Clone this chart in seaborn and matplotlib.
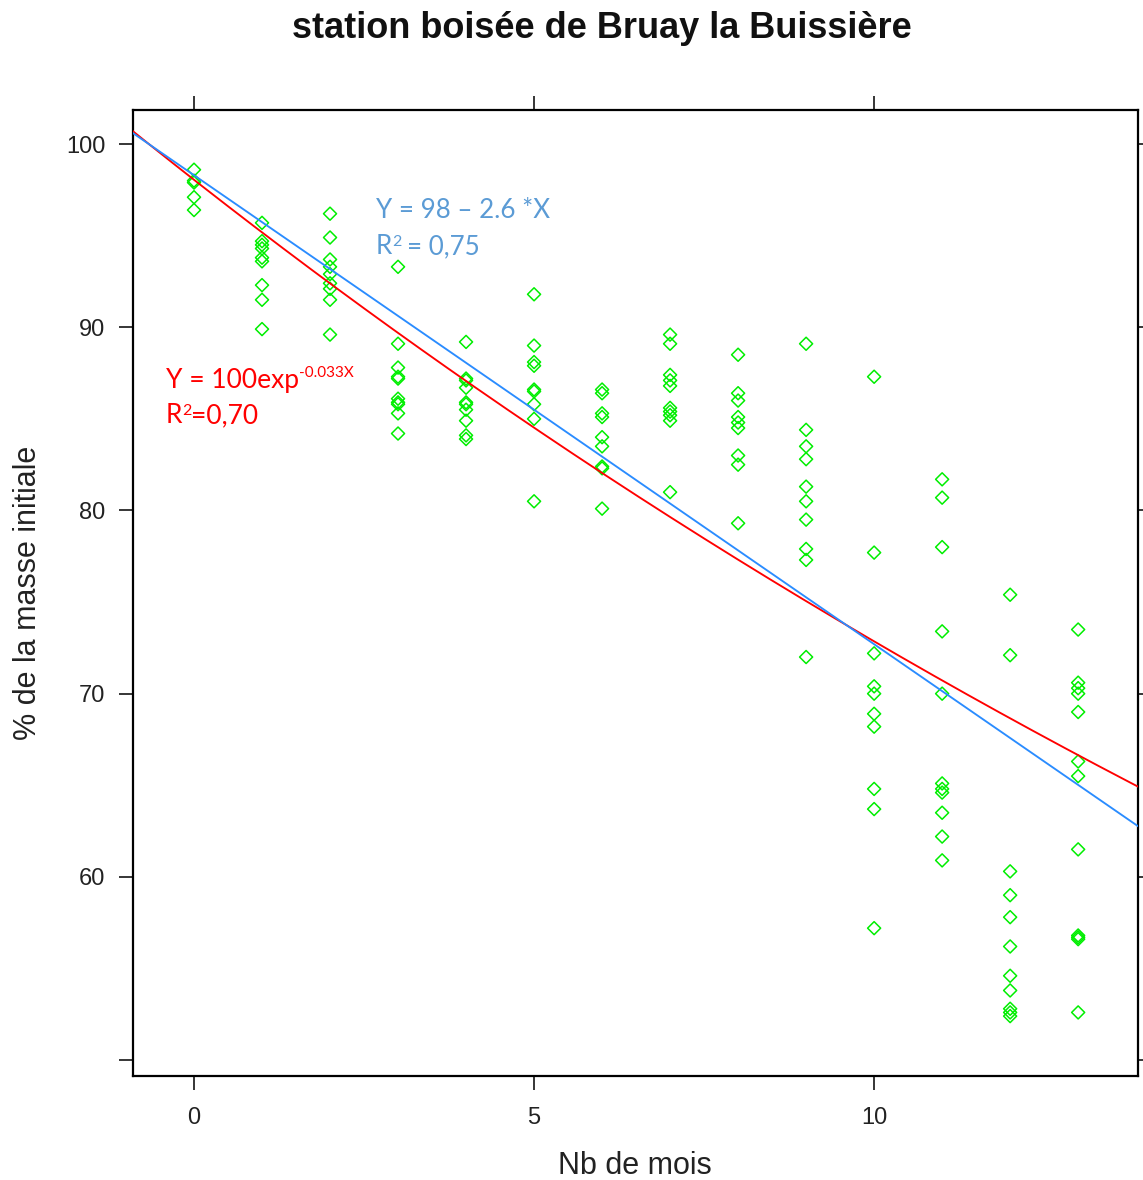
import numpy as np
import pandas as pd
import matplotlib
matplotlib.use("Agg")
import matplotlib.pyplot as plt
import seaborn as sns

# ---- data ----
mois = list(range(14))
masse_par_mois = [
    [98.6, 98.0, 97.9, 97.1, 96.4],
    [95.7, 94.7, 94.5, 94.3, 93.8, 93.6, 92.3, 91.5, 89.9],
    [96.2, 94.9, 93.7, 93.3, 92.9, 92.4, 92.1, 91.5, 89.6],
    [93.3, 89.1, 87.8, 87.3, 87.2, 86.1, 85.9, 85.8, 85.3, 84.2],
    [89.2, 87.2, 87.1, 86.7, 85.9, 85.8, 85.5, 84.9, 84.1, 83.9],
    [91.8, 89.0, 88.1, 87.9, 86.6, 86.5, 85.8, 85.0, 80.5],
    [86.6, 86.4, 85.3, 85.1, 84.0, 83.5, 82.4, 82.3, 80.1],
    [89.6, 89.1, 87.4, 87.1, 86.8, 85.6, 85.4, 85.2, 84.9, 81.0],
    [88.5, 86.4, 86.0, 85.1, 84.8, 84.5, 83.0, 82.5, 79.3],
    [89.1, 84.4, 83.5, 82.8, 81.3, 80.5, 79.5, 77.9, 77.3, 72.0],
    [87.3, 77.7, 72.2, 70.4, 70.0, 68.9, 68.2, 64.8, 63.7, 57.2],
    [81.7, 80.7, 78.0, 73.4, 70.0, 65.1, 64.8, 64.6, 63.5, 62.2, 60.9],
    [75.4, 72.1, 60.3, 59.0, 57.8, 56.2, 54.6, 53.8, 52.8, 52.6, 52.4],
    [73.5, 70.6, 70.3, 70.0, 69.0, 66.3, 65.5, 61.5, 56.8, 56.7, 56.6, 52.6],
]
# fitted curves (as drawn)
lin_intercept, lin_slope = 98.3, -2.56
exp_a, exp_k = 98.05, -0.0297

x_ticks = [0, 5, 10]
y_ticks = [50, 60, 70, 80, 90, 100]
y_ticklabels = ["", "60", "70", "80", "90", "100"]

df = pd.DataFrame({
    "mois": [m for m, vals in zip(mois, masse_par_mois) for _ in vals],
    "masse": [v for vals in masse_par_mois for v in vals],
})

sns.set_theme(style="white")
plt.rcParams["font.family"] = ["Liberation Sans Narrow", "Liberation Sans", "DejaVu Sans"]

fig = plt.figure(figsize=(11.43, 11.8), dpi=100)
ax = fig.add_axes([133 / 1143, 1 - 1076 / 1180, (1138 - 133) / 1143, (1076 - 110) / 1180])

sns.scatterplot(data=df, x="mois", y="masse", marker="D", s=44,
                facecolor="none", edgecolor="#00EE00", linewidth=1.1, ax=ax, zorder=2)

xg = np.linspace(-1.5, 14.5, 200)
curves = pd.DataFrame({"x": xg,
                       "exp": exp_a * np.exp(exp_k * xg),
                       "lin": lin_intercept + lin_slope * xg})
sns.lineplot(data=curves, x="x", y="exp", color="#FF0000", linewidth=1.35, ax=ax, zorder=3)
sns.lineplot(data=curves, x="x", y="lin", color="#2A8CFF", linewidth=1.35, ax=ax, zorder=4)

ax.set_xlim(-0.897, 13.88)
ax.set_ylim(49.13, 101.86)
ax.set_xticks(x_ticks)
ax.set_yticks(y_ticks)
ax.set_yticklabels(y_ticklabels)

for s in ax.spines.values():
    s.set_visible(True)
    s.set_color("black")
    s.set_linewidth(1.6)

ax.tick_params(axis="both", which="both", direction="out", length=10, width=1.1,
               color="black", labelsize=17, labelcolor="#222222")
ax.tick_params(axis="x", top=True, bottom=True, labeltop=False, pad=12)
ax.tick_params(axis="y", left=True, right=True, labelright=False, pad=10)

ax.set_xlabel("Nb de mois", fontsize=22, color="#222222")
ax.set_ylabel("% de la masse initiale", fontsize=22, color="#222222", va="center")
ax.xaxis.set_label_coords(0.4995, -0.078)
ax.yaxis.set_label_coords(-0.1045, 0.5)

fig.text(602 / 1143, 1 - 28 / 1180, "station boisée de Bruay la Buissière",
         ha="center", va="center", fontsize=26, fontweight="bold",
         family=["Liberation Sans", "DejaVu Sans"], color="#111111")

blue_txt = "#5B9BD5"
fam = ["Lato", "DejaVu Sans"]
ax.text(2.676, 95.96, "Y = 98 – 2.6 *X", color=blue_txt, fontsize=18.7,
        family=fam, va="baseline")
ax.text(2.676, 94.0, "R", color=blue_txt, fontsize=18.7, family=fam, va="baseline")
ax.text(2.676 + 16 / 68, 94.0 + 8 / 18.33, "2", color=blue_txt, fontsize=11.5,
        family=fam, va="baseline")
ax.text(2.676 + 31 / 68, 94.0, "= 0,75", color=blue_txt, fontsize=18.7,
        family=fam, va="baseline")

ax.text(-0.41, 86.69, "Y = 100exp", color="#FF0000", fontsize=19,
        family=fam, va="baseline")
ax.text(1.544, 87.29, "-0.033X", color="#FF0000", fontsize=11,
        family=fam, va="baseline")
ax.text(-0.41, 84.78, "R", color="#FF0000", fontsize=19, family=fam, va="baseline")
ax.text(-0.41 + 16 / 68, 84.78 + 8 / 18.33, "2", color="#FF0000", fontsize=11.5,
        family=fam, va="baseline")
ax.text(-0.41 + 25 / 68, 84.78, "=0,70", color="#FF0000", fontsize=19,
        family=fam, va="baseline")

fig.savefig("out.png", dpi=100, facecolor="white")
